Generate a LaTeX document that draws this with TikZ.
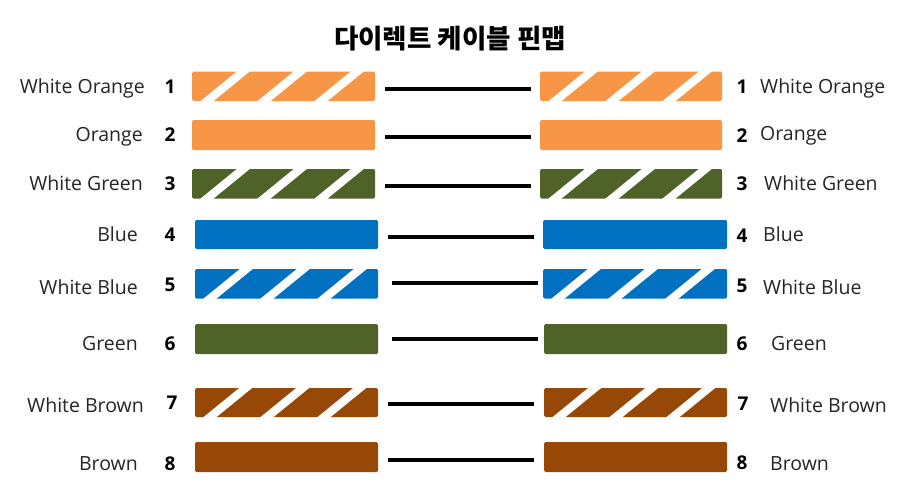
\documentclass[tikz,border=0pt]{standalone}
\usepackage{fontspec}
\setmainfont{Open Sans}
\newfontfamily\krfont{Noto Sans CJK KR}
\usetikzlibrary{calc}
\definecolor{cOrange}{HTML}{F79646}
\definecolor{cGreen}{HTML}{4F6228}
\definecolor{cBlue}{HTML}{0070C0}
\definecolor{cBrown}{HTML}{974806}
\definecolor{txt}{HTML}{262626}
\tikzset{
  barbox/.style={draw=none, rounded corners=1.5pt, inner sep=0pt, outer sep=0pt},
  wire/.style={line width=3.2pt, black},
  lab/.style={font=\fontsize{19.5}{22}\selectfont, text=txt, inner sep=0pt},
  num/.style={font=\fontsize{19}{22}\selectfont\bfseries, text=black, inner sep=0pt, anchor=base},
  ttl/.style={font=\krfont\bfseries\fontsize{26.5}{30}\selectfont, inner sep=0pt, anchor=base},
}
% name, x1, x2, ytop, ybot, colour
\newcommand{\wirebar}[6]{%
  \pgfmathsetmacro{\bw}{#3-#2}\pgfmathsetmacro{\bh}{#5-#4}%
  \node[barbox, fill=#6, minimum width=\bw pt, minimum height=\bh pt] (#1) at ({(#2+#3)/2},{(#4+#5)/2}) {};}
\newcommand{\wirestripes}[1]{%
  \foreach \k in {0,1,2}{\fill[white] ($(#1.south west)+({8+57*\k},0.5)$) -- ++(13,0) -- ++(38,-31) -- ++(-13,0) -- cycle;}}
\begin{document}
\begin{tikzpicture}[x=1pt,y=-1pt]
\useasboundingbox (0,0) rectangle (909,498);
\fill[white] (0,0) rectangle (909,498);

\node[ttl] (title) at (450,48) {다이렉트 케이블 핀맵};

% bars left
\wirebar{L1}{192}{375}{71.5}{101}{cOrange}
\wirebar{L2}{192}{375}{120}{150}{cOrange}
\wirebar{L3}{192}{375}{169}{198.5}{cGreen}
\wirebar{L4}{195}{378}{220}{249}{cBlue}
\wirebar{L5}{195}{378}{269}{298.5}{cBlue}
\wirebar{L6}{195}{378}{324}{354}{cGreen}
\wirebar{L7}{195}{378}{388}{417}{cBrown}
\wirebar{L8}{195}{378}{442}{472}{cBrown}
% bars right
\wirebar{R1}{540}{722}{71.5}{101}{cOrange}
\wirebar{R2}{540}{722}{120}{150}{cOrange}
\wirebar{R3}{540}{722}{169}{198.5}{cGreen}
\wirebar{R4}{543}{727}{220}{249}{cBlue}
\wirebar{R5}{543}{727}{269}{298.5}{cBlue}
\wirebar{R6}{544}{727}{324}{354}{cGreen}
\wirebar{R7}{544}{727}{388}{417}{cBrown}
\wirebar{R8}{544}{727}{442}{472}{cBrown}

\wirestripes{L1}\wirestripes{R1}
\wirestripes{L3}\wirestripes{R3}
\wirestripes{L5}\wirestripes{R5}
\wirestripes{L7}\wirestripes{R7}

% wires
\coordinate (a1) at (385,89);  \coordinate (b1) at (531,89);
\coordinate (a2) at (385,137); \coordinate (b2) at (531,137);
\coordinate (a3) at (385,186); \coordinate (b3) at (531,186);
\coordinate (a4) at (388,237); \coordinate (b4) at (534,237);
\coordinate (a5) at (392,283); \coordinate (b5) at (538,283);
\coordinate (a6) at (392,339); \coordinate (b6) at (538,339);
\coordinate (a7) at (388,404); \coordinate (b7) at (534,404);
\coordinate (a8) at (388,460); \coordinate (b8) at (534,460);
\foreach \i in {1,...,8}{\draw[wire] (a\i) -- (b\i);}

% left labels
\node[lab, anchor=base east] (ll1) at (145,93) {White Orange};
\node[lab, anchor=base east] (ll2) at (143,141) {Orange};
\node[lab, anchor=base east] (ll3) at (143,190) {White Green};
\node[lab, anchor=base east] (ll4) at (138,241) {Blue};
\node[lab, anchor=base east] (ll5) at (138,294) {White Blue};
\node[lab, anchor=base east] (ll6) at (138,350) {Green};
\node[lab, anchor=base east] (ll7) at (144,412) {White Brown};
\node[lab, anchor=base east] (ll8) at (138,470) {Brown};
% left numbers
\node[num] (ln1) at (170,93) {1};
\node[num] (ln2) at (170,141) {2};
\node[num] (ln3) at (170,190) {3};
\node[num] (ln4) at (170,241) {4};
\node[num] (ln5) at (170,291) {5};
\node[num] (ln6) at (170,350) {6};
\node[num] (ln7) at (172,409) {7};
\node[num] (ln8) at (170,470) {8};
% right numbers
\node[num] (rn1) at (742,93) {1};
\node[num] (rn2) at (742,142) {2};
\node[num] (rn3) at (742,190) {3};
\node[num] (rn4) at (742,242) {4};
\node[num] (rn5) at (742,292) {5};
\node[num] (rn6) at (742,350) {6};
\node[num] (rn7) at (743,410) {7};
\node[num] (rn8) at (742,469) {8};
% right labels
\node[lab, anchor=base west] (rl1) at (760,93) {White Orange};
\node[lab, anchor=base west] (rl2) at (760,140) {Orange};
\node[lab, anchor=base west] (rl3) at (764,190) {White Green};
\node[lab, anchor=base west] (rl4) at (763,241) {Blue};
\node[lab, anchor=base west] (rl5) at (763,294) {White Blue};
\node[lab, anchor=base west] (rl6) at (771,350) {Green};
\node[lab, anchor=base west] (rl7) at (770,412) {White Brown};
\node[lab, anchor=base west] (rl8) at (770,470) {Brown};
\end{tikzpicture}
\end{document}
